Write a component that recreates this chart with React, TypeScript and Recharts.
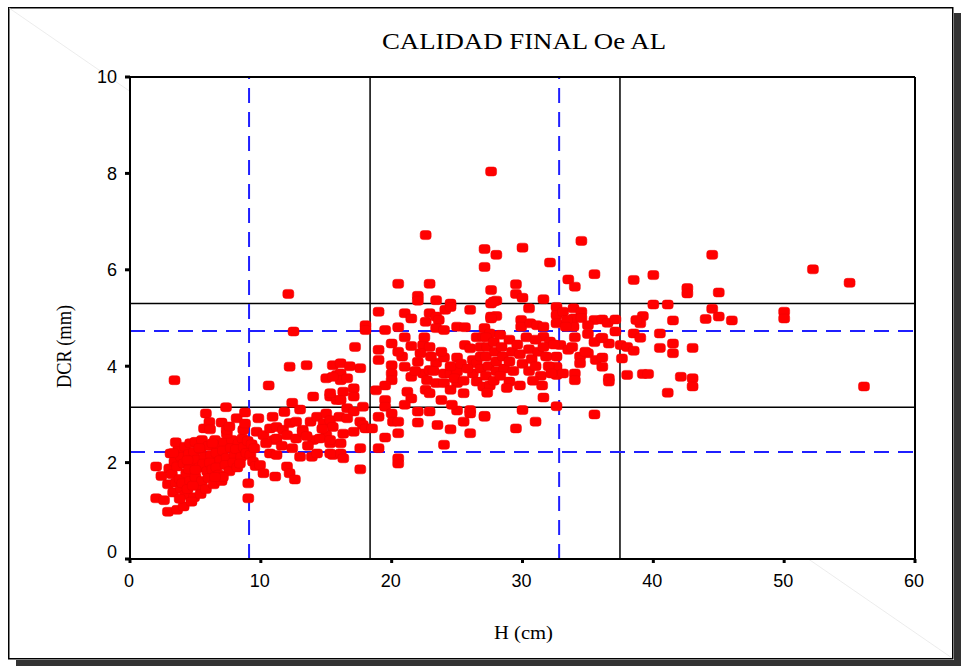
import React from 'react';
import { ScatterChart, Scatter, XAxis, YAxis, ReferenceLine } from 'recharts';

// [H (cm), DCR (mm)]
const lowCluster: [number, number][] = [
  [2.0,1.92],[2.0,1.26],[2.4,1.72],[2.6,1.22],[2.9,0.98],[3.1,2.19],[2.9,1.55],[3.0,1.88],[3.4,2.02],[3.2,1.76],
  [3.5,1.58],[3.3,1.38],[3.6,1.02],[3.4,3.71],[3.7,2.28],[3.5,2.42],[3.9,2.12],[3.6,1.92],[3.8,1.66],[3.9,1.46],
  [4.2,2.33],[4.1,1.98],[4.3,1.78],[4.0,1.57],[4.2,1.33],[4.1,1.09],[4.6,2.4],[4.5,2.18],[4.7,1.97],[4.5,1.86],
  [4.6,1.62],[4.4,1.45],[4.9,1.28],[5.0,2.43],[4.9,2.22],[5.1,2.06],[5.3,1.9],[5.0,1.7],[5.2,1.52],[4.7,1.19],
  [5.4,1.35],[5.5,2.47],[5.4,2.28],[5.7,2.12],[5.6,1.98],[5.9,1.82],[5.5,1.62],[5.8,1.45],[6.0,2.35],[6.2,2.16],
  [6.1,2.0],[6.3,1.86],[6.0,1.68],[6.4,1.55],[5.66,2.71],[5.8,3.02],[6.5,2.47],[6.7,2.3],[6.6,2.2],[6.9,2.05],
  [6.6,1.9],[6.8,1.75],[7.0,1.62],[6.07,2.84],[6.12,2.69],[7.2,2.42],[7.1,2.25],[7.4,2.1],[7.3,1.95],[7.6,1.82],
  [7.1,1.7],[7.8,2.47],[7.7,2.3],[8.0,2.15],[7.9,2.0],[8.2,1.9],[7.0,2.83],[7.4,2.6],[7.34,3.15],[7.39,2.68],
  [7.6,2.75],[8.3,2.4],[8.1,2.28],[8.5,2.12],[8.4,1.98],[8.15,2.92],[8.6,2.5],[8.7,2.32],[8.9,2.2],[8.66,2.68],
  [8.79,2.81],[8.79,3.04],[9.0,2.45],[9.04,1.57],[9.04,1.26],[9.3,2.38],[9.2,2.16],[9.4,2.02],[9.6,1.93],[9.81,2.92],
  [9.68,2.64],[9.5,2.3],[3.3,2.2],[4.4,2.05],[5.3,2.3],[6.3,2.4],[5.0,1.85],[6.5,1.7],[4.8,1.52],[3.8,1.25],
];

const midLow: [number, number][] = [
  [9.94,1.95],[10.2,1.78],[10.2,2.57],[10.7,2.71],[11.2,2.74],[11.7,2.68],[12.2,2.82],[12.7,2.85],[13.2,2.68],[13.8,2.85],
  [14.3,2.95],[15.0,3.02],[14.8,2.82],[15.3,2.88],[15.5,2.74],[15.0,2.57],[11.0,2.47],[11.2,2.5],[12.0,2.57],[12.7,2.5],
  [13.2,2.64],[14.0,2.47],[14.5,2.5],[15.3,2.4],[15.5,2.16],[13.0,2.12],[13.9,2.12],[14.3,2.19],[10.7,2.19],[11.2,2.16],
  [12.0,1.92],[12.2,1.78],[12.6,1.65],[11.1,1.71],[10.6,3.6],[12.2,3.99],[13.5,4.02],[15.5,4.02],[15.0,3.75],[15.8,3.82],
  [14.0,3.37],[15.3,3.37],[12.4,3.24],[15.8,3.3],[12.1,5.5],[12.5,4.72],[10.4,2.4],[11.6,2.35],[12.4,2.3],[13.6,2.35],
  [14.7,2.7],[16.0,2.95],[16.3,2.6],[13.0,3.1],[11.8,3.05],[10.9,2.95],[13.5,2.55],
  [17.6,3.96],[16.1,4.06],[16.1,3.85],[16.1,3.71],[16.6,3.75],[17.1,3.54],[17.1,3.37],[16.3,3.47],[16.1,3.3],[15.5,3.78],
  [15.3,3.44],[16.6,3.13],[17.1,3.06],[16.6,2.92],[17.6,2.85],[17.8,2.78],[17.1,2.64],[17.8,3.16],[18.0,2.71],[18.5,2.71],
  [17.6,2.3],[16.1,2.4],[16.1,2.19],[16.3,2.09],[17.6,1.86],[15.3,2.47],[15.3,2.19],[18.0,4.85],[18.0,4.75],[17.2,4.4],
  [16.8,4.0],
];

const midHigh: [number, number][] = [
  [22.6,6.72],[20.5,5.71],[22.9,5.71],[22.0,5.46],[22.0,5.36],[23.4,5.37],[24.5,5.3],[19.0,5.13],[21.0,5.1],[21.5,4.99],
  [22.6,4.92],[22.9,5.1],[23.4,5.03],[23.6,4.96],[24.1,5.17],[24.5,5.23],[26.0,5.17],[19.5,4.75],[20.5,4.81],[23.4,4.79],
  [24.0,4.75],[25.0,4.82],[25.6,4.81],[19.0,4.34],[19.0,4.13],[20.0,4.47],[20.8,4.2],[21.5,4.42],[22.4,4.44],[22.9,4.4],
  [22.2,4.27],[21.0,3.99],[20.0,4.02],[20.0,3.85],[20.0,3.71],[22.0,4.09],[23.4,4.07],[24.0,4.18],[25.0,4.18],[25.6,4.44],
  [26.0,4.37],[26.2,4.13],[26.5,4.06],[21.5,3.78],[22.4,3.85],[22.9,3.92],[22.7,3.71],[23.4,3.65],[24.0,3.85],[24.0,3.65],
  [24.5,3.85],[25.0,3.89],[25.0,3.65],[24.5,3.51],[25.5,3.44],[26.2,3.85],[26.5,3.68],[27.0,3.58],[21.2,3.47],[21.5,3.33],
  [22.6,3.51],[22.9,3.44],[19.5,3.3],[19.5,3.16],[20.0,3.02],[20.1,2.85],[20.5,2.85],[20.5,2.61],[22.0,3.06],[22.0,2.83],
  [22.9,3.06],[23.5,2.78],[24.5,2.69],[25.0,3.08],[25.5,2.85],[26.0,3.09],[26.0,3.02],[26.0,2.61],[27.1,2.95],[24.0,2.37],
  [20.5,2.09],[20.5,1.98],[19.5,2.52],[19.0,2.3],[23.0,4.2],[23.8,4.3],[24.5,4.0],[25.3,4.05],[25.8,3.95],[26.8,4.2],
  [26.8,3.95],[24.8,3.75],[25.5,3.7],[23.2,3.9],[21.8,3.9],[22.5,4.6],[26.5,4.6],[26.8,4.4],[21.0,4.6],[20.5,4.3],
  [19.5,3.6],[18.8,3.5],[19.0,2.95],[21.0,3.2],[23.8,3.3],[24.6,3.2],
];

const upperRight: [number, number][] = [
  [27.6,8.04],[34.5,6.6],[27.1,6.43],[28.0,6.31],[30.0,6.46],[27.1,6.06],[32.1,6.15],[33.5,5.8],[34.0,5.65],[35.5,5.91],
  [27.6,5.58],[29.5,5.7],[29.5,5.5],[30.0,5.42],[31.6,5.39],[27.6,5.3],[28.0,5.36],[30.5,5.2],[32.6,5.23],[32.6,5.06],
  [32.6,4.89],[33.1,5.13],[33.9,5.2],[34.5,5.13],[33.9,4.99],[33.9,4.82],[33.4,4.96],[33.3,4.82],[35.5,4.96],[36.1,4.97],
  [27.6,5.03],[28.0,5.04],[27.1,4.79],[29.9,4.96],[29.9,4.82],[30.6,4.89],[31.1,4.85],[31.6,4.82],[31.6,4.61],[32.1,4.51],
  [35.0,4.67],[36.0,4.58],[36.6,4.47],[32.9,4.44],[33.5,4.34],[32.6,4.2],[32.6,3.99],[32.6,3.82],[33.1,3.85],[34.0,3.85],
  [34.0,3.71],[34.4,4.2],[34.4,4.06],[35.0,4.27],[35.6,4.13],[36.1,3.99],[36.6,3.75],[29.0,3.68],[31.6,3.35],[32.6,3.17],
  [35.5,3.0],[27.1,2.97],[30.0,3.09],[31.0,2.85],[29.5,2.71],[27.8,5.34],[27.6,4.99],[27.0,4.61],[27.5,4.68],
  [27.2,4.6],[27.3,4.4],[27.2,4.2],[27.4,4.0],[27.2,3.8],[27.5,3.6],[27.3,3.45],[27.8,4.5],[27.9,4.3],[28.0,4.1],
  [28.0,3.9],[27.8,3.7],[28.3,4.65],[28.4,4.4],[28.5,4.2],[28.6,3.95],[28.3,3.8],[29.0,4.55],[29.2,4.3],[29.0,4.1],
  [29.3,3.9],[29.6,4.45],[29.8,4.25],[30.0,4.05],[30.3,4.6],[30.5,4.35],[30.7,4.15],[30.5,3.9],[31.0,4.55],[31.2,4.3],
  [31.0,4.0],[31.4,3.8],[31.6,4.4],[31.8,4.2],[32.0,4.0],[32.2,3.85],[32.4,4.45],[31.5,3.6],[30.8,3.7],[28.8,3.55],
  [29.8,3.6],[34.5,5.0],[35.0,4.85],[34.0,4.6],[35.5,4.5],[36.5,4.9],[33.8,4.4],[34.8,4.3],
];

const farRight: [number, number][] = [
  [44.5,6.31],[52.2,6.01],[55.0,5.73],[38.5,5.79],[40.0,5.89],[42.6,5.62],[42.6,5.51],[45.0,5.53],[40.0,5.28],[41.1,5.28],
  [44.5,5.19],[45.0,5.03],[44.0,4.98],[46.0,4.95],[50.0,5.13],[50.0,4.99],[39.2,5.04],[39.0,4.89],[41.5,4.95],[37.1,4.97],
  [38.7,4.96],[37.1,4.72],[38.5,4.68],[39.0,4.59],[40.5,4.68],[36.1,4.59],[37.5,4.44],[38.0,4.4],[38.5,4.32],[40.5,4.38],
  [41.5,4.47],[41.5,4.27],[43.0,4.38],[36.1,4.18],[37.6,4.16],[36.6,3.68],[38.0,3.82],[39.2,3.84],[39.6,3.84],[42.1,3.78],
  [43.0,3.75],[43.0,3.58],[41.1,3.45],[56.1,3.58],
];

const xTicks = [0, 10, 20, 30, 40, 50, 60];
const yTicks = [0, 2, 4, 6, 8, 10];
const solidX = [18.35, 37.45];
const solidY = [5.3, 3.15];
const dashedX = [9.1, 32.8];
const dashedY = [4.73, 2.22];

const points = [...lowCluster, ...midLow, ...midHigh, ...upperRight, ...farRight].map(([h, dcr]) => ({ h, dcr }));

const Marker = (props: any) => {
  const { cx, cy } = props;
  if (cx == null || cy == null) return null;
  return <rect x={cx - 5.5} y={cy - 4.5} width={11} height={9} rx={3} ry={3} fill="#ff0000" stroke="#ee0000" strokeWidth={0.5} />;
};

const YTick = (props: any) => {
  const { x, y, payload } = props;
  return (
    <text x={x} y={y + (payload.value === 0 ? -7 : 0)} dy="0.36em" textAnchor="end"
      fontFamily="'Liberation Sans', Arial, sans-serif" fontSize={18} fill="#000">{payload.value}</text>
  );
};

const XTick = (props: any) => {
  const { x, y, payload } = props;
  return (
    <text x={x - 1} y={y} dy="0.72em" textAnchor="middle"
      fontFamily="'Liberation Sans', Arial, sans-serif" fontSize={18} fill="#000">{payload.value}</text>
  );
};

export default function App() {
  return (
    <div style={{ position: 'absolute', left: 0, top: 0, width: 961, height: 666, background: '#fff', overflow: 'hidden' }}>
      <svg width={961} height={666} style={{ position: 'absolute', left: 0, top: 0 }}>
        <rect x={954} y={13} width={7} height={653} fill="#333" />
        <rect x={16} y={660} width={945} height={6} fill="#333" />
        <rect x={8.75} y={7.75} width={944} height={651} fill="#fff" stroke="#000" strokeWidth={1.5} />
        <line x1={9} y1={8} x2={952} y2={658} stroke="#e4e4e4" strokeWidth={0.7} />
        <rect x={130} y={77} width={785} height={482} fill="#fff" />
        <text x={382} y={49} textLength={284} lengthAdjust="spacingAndGlyphs"
          fontFamily="'Liberation Serif', 'Times New Roman', serif" fontSize={24} fill="#000">CALIDAD FINAL Oe AL</text>
        <text x={494} y={639} textLength={59} lengthAdjust="spacingAndGlyphs"
          fontFamily="'Liberation Serif', 'Times New Roman', serif" fontSize={19} fill="#000">H (cm)</text>
        <text transform="translate(71,388) rotate(-90)" x={0} y={0} textLength={83} lengthAdjust="spacingAndGlyphs"
          fontFamily="'Liberation Serif', 'Times New Roman', serif" fontSize={22} fill="#000">DCR (mm)</text>
      </svg>
      <div style={{ position: 'absolute', left: 0, top: 0 }}>
        <ScatterChart width={961} height={666} margin={{ top: 77, right: 46, bottom: 77, left: 70 }}>
          <XAxis type="number" dataKey="h" domain={[0, 60]} ticks={xTicks} interval={0} height={30}
            axisLine={{ stroke: '#000', strokeWidth: 2 }} tickLine={{ stroke: '#000', strokeWidth: 3 }}
            tickSize={4} tickMargin={11} tick={<XTick />} allowDataOverflow />
          <YAxis type="number" dataKey="dcr" domain={[0, 10]} ticks={yTicks} interval={0} width={60}
            axisLine={{ stroke: '#000', strokeWidth: 2 }} tickLine={{ stroke: '#000', strokeWidth: 3 }}
            tickSize={5} tickMargin={8} tick={<YTick />} allowDataOverflow />
          <Scatter data={points} shape={<Marker />} isAnimationActive={false} />
          {solidX.map((v) => (
            <ReferenceLine key={'sx' + v} x={v} stroke="#000" strokeWidth={1.5} />
          ))}
          {solidY.map((v) => (
            <ReferenceLine key={'sy' + v} y={v} stroke="#000" strokeWidth={1.5} />
          ))}
          {dashedX.map((v) => (
            <ReferenceLine key={'dx' + v} x={v} stroke="#1f1fff" strokeWidth={2} strokeDasharray="15 9" />
          ))}
          {dashedY.map((v) => (
            <ReferenceLine key={'dy' + v} y={v} stroke="#1f1fff" strokeWidth={2} strokeDasharray="15 9" />
          ))}
          <ReferenceLine y={10} stroke="#000" strokeWidth={2} />
          <ReferenceLine x={60} stroke="#000" strokeWidth={2} />
        </ScatterChart>
      </div>
    </div>
  );
}
